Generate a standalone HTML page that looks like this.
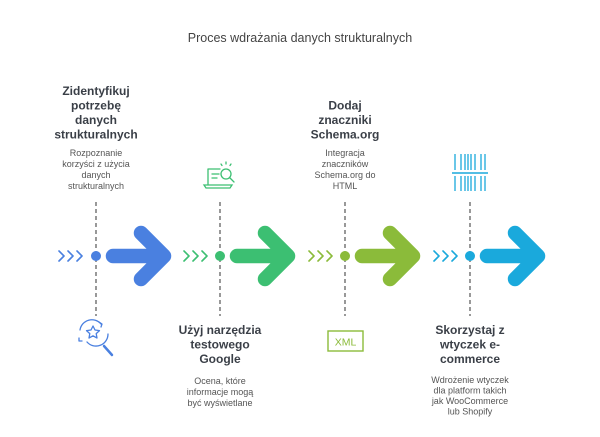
<!DOCTYPE html>
<html><head><meta charset="utf-8"><style>
html,body{margin:0;padding:0;background:#fff;width:600px;height:437px;overflow:hidden}
svg text{font-family:"Liberation Sans",sans-serif}
.h{font-size:12px;font-weight:bold;fill:#3a3f47}
.d{font-size:9px;fill:#555}
</style></head><body>
<svg width="600" height="437" viewBox="0 0 600 437" xmlns="http://www.w3.org/2000/svg">
<text x="300" y="42" text-anchor="middle" font-size="12.5" fill="#444">Proces wdrażania danych strukturalnych</text>

<g stroke="#555" stroke-width="1.2" stroke-dasharray="4,3">
<line x1="96" y1="202" x2="96" y2="316"/>
<line x1="220" y1="202" x2="220" y2="316"/>
<line x1="345" y1="202" x2="345" y2="316"/>
<line x1="470" y1="202" x2="470" y2="316"/>
</g>

<g fill="none" stroke-width="1.6" stroke-linecap="round" stroke-linejoin="round">
<g stroke="#4a80e0"><path d="M59,251 l5,5 -5,5 M68,251 l5,5 -5,5 M77,251 l5,5 -5,5"/></g>
<g stroke="#3cbf72"><path d="M184,251 l5,5 -5,5 M193,251 l5,5 -5,5 M202,251 l5,5 -5,5"/></g>
<g stroke="#8bbb3a"><path d="M309,251 l5,5 -5,5 M318,251 l5,5 -5,5 M327,251 l5,5 -5,5"/></g>
<g stroke="#1aa9dc"><path d="M434,251 l5,5 -5,5 M443,251 l5,5 -5,5 M452,251 l5,5 -5,5"/></g>
</g>
<circle cx="96" cy="256" r="5" fill="#4a80e0"/>
<circle cx="220" cy="256" r="5" fill="#3cbf72"/>
<circle cx="345" cy="256" r="5" fill="#8bbb3a"/>
<circle cx="470" cy="256" r="5" fill="#1aa9dc"/>

<g fill="none" stroke-width="14.5" stroke-linecap="round" stroke-linejoin="round">
<path stroke="#4a80e0" d="M113,256 H160 M141,233 L164,256 L141,279"/>
<path stroke="#3cbf72" d="M237,256 H284 M265,233 L288,256 L265,279"/>
<path stroke="#8bbb3a" d="M362,256 H409 M390,233 L413,256 L390,279"/>
<path stroke="#1aa9dc" d="M487,256 H534 M515,233 L538,256 L515,279"/>
</g>

<g text-anchor="middle">
<text class="h" x="96" y="95">Zidentyfikuj</text>
<text class="h" x="96" y="109.5">potrzebę</text>
<text class="h" x="96" y="124">danych</text>
<text class="h" x="96" y="138.5">strukturalnych</text>
<text class="d" x="96" y="156">Rozpoznanie</text>
<text class="d" x="96" y="167">korzyści z użycia</text>
<text class="d" x="96" y="178">danych</text>
<text class="d" x="96" y="189">strukturalnych</text>

<text class="h" x="345" y="109.5">Dodaj</text>
<text class="h" x="345" y="124">znaczniki</text>
<text class="h" x="345" y="138.5">Schema.org</text>
<text class="d" x="345" y="156">Integracja</text>
<text class="d" x="345" y="167">znaczników</text>
<text class="d" x="345" y="178">Schema.org do</text>
<text class="d" x="345" y="189">HTML</text>

<text class="h" x="220" y="334">Użyj narzędzia</text>
<text class="h" x="220" y="348.5">testowego</text>
<text class="h" x="220" y="363">Google</text>
<text class="d" x="220" y="384">Ocena, które</text>
<text class="d" x="220" y="395">informacje mogą</text>
<text class="d" x="220" y="406">być wyświetlane</text>

<text class="h" x="470" y="334">Skorzystaj z</text>
<text class="h" x="470" y="348.5">wtyczek e-</text>
<text class="h" x="470" y="363">commerce</text>
<text class="d" x="470" y="383">Wdrożenie wtyczek</text>
<text class="d" x="470" y="393.5">dla platform takich</text>
<text class="d" x="470" y="404">jak WooCommerce</text>
<text class="d" x="470" y="414.5">lub Shopify</text>
</g>

<g fill="none" stroke="#3cbf72" stroke-width="1.3" stroke-linecap="round">
<path d="M208,169 h12 M208,169 v16 h20 M204,185 h28 l-2,3 h-24 z"/>
<path d="M212,174 h7 M212,178 h5"/>
<circle cx="226" cy="174" r="5"/>
<path d="M230,178 l4,4 M226,162 v2 M221,164 l1,1.5 M231,164 l-1,1.5"/>
</g>

<g stroke="#1aa9dc" stroke-width="1.3">
<path d="M455,154 v16 M461,154 v16 M465,154 v16 M468,154 v16 M471,154 v16 M475,154 v16 M481,154 v16 M485,154 v16"/>
<path d="M455,176 v15 M461,176 v15 M465,176 v15 M468,176 v15 M471,176 v15 M475,176 v15 M481,176 v15 M485,176 v15"/>
<path d="M452,173 h36" stroke-width="1.6"/>
</g>

<g fill="none" stroke="#4a80e0" stroke-width="1.3" stroke-linejoin="round" stroke-linecap="round">
<path d="M80,330 a12,12 0 0 1 21,-6 M108,334 a12,12 0 0 1 -21,8"/>
<path d="M99,322 l3,2 -1,3 M82,341 l-3,0 0,-3"/>
<path d="M93,326 l2,4 4.5,0.6 -3.3,3 0.8,4.4 -4,-2.2 -4,2.2 0.8,-4.4 -3.3,-3 4.5,-0.6 z"/>
<path d="M104,346 l8,9" stroke-width="2.5"/>
</g>

<rect x="328" y="331" width="35" height="20" fill="none" stroke="#8bbb3a" stroke-width="1.4"/>
<text x="345.5" y="345.5" text-anchor="middle" font-family="Liberation Mono,monospace" font-size="10.5" fill="#8bbb3a">XML</text>
</svg>
</body></html>
